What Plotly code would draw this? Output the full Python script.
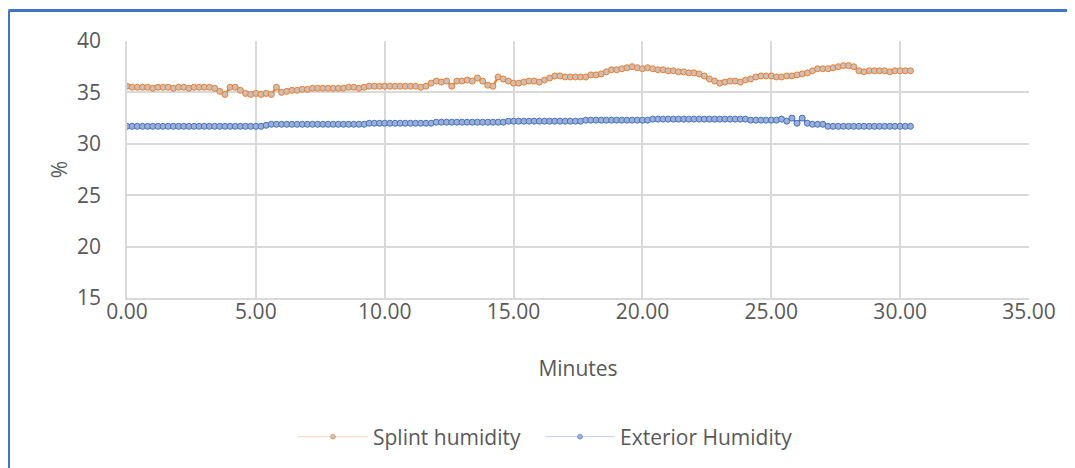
import plotly.graph_objects as go

minutes = [
    0.0, 0.2, 0.4, 0.6, 0.8, 1.0, 1.2, 1.4, 1.6, 1.8,
    2.0, 2.2, 2.4, 2.6, 2.8, 3.0, 3.2, 3.4, 3.6, 3.8,
    4.0, 4.2, 4.4, 4.6, 4.8, 5.0, 5.2, 5.4, 5.6, 5.8,
    6.0, 6.2, 6.4, 6.6, 6.8, 7.0, 7.2, 7.4, 7.6, 7.8,
    8.0, 8.2, 8.4, 8.6, 8.8, 9.0, 9.2, 9.4, 9.6, 9.8,
    10.0, 10.2, 10.4, 10.6, 10.8, 11.0, 11.2, 11.4, 11.6, 11.8,
    12.0, 12.2, 12.4, 12.6, 12.8, 13.0, 13.2, 13.4, 13.6, 13.8,
    14.0, 14.2, 14.4, 14.6, 14.8, 15.0, 15.2, 15.4, 15.6, 15.8,
    16.0, 16.2, 16.4, 16.6, 16.8, 17.0, 17.2, 17.4, 17.6, 17.8,
    18.0, 18.2, 18.4, 18.6, 18.8, 19.0, 19.2, 19.4, 19.6, 19.8,
    20.0, 20.2, 20.4, 20.6, 20.8, 21.0, 21.2, 21.4, 21.6, 21.8,
    22.0, 22.2, 22.4, 22.6, 22.8, 23.0, 23.2, 23.4, 23.6, 23.8,
    24.0, 24.2, 24.4, 24.6, 24.8, 25.0, 25.2, 25.4, 25.6, 25.8,
    26.0, 26.2, 26.4, 26.6, 26.8, 27.0, 27.2, 27.4, 27.6, 27.8,
    28.0, 28.2, 28.4, 28.6, 28.8, 29.0, 29.2, 29.4, 29.6, 29.8,
    30.0, 30.2, 30.4,
]

splint_humidity = [
    35.6, 35.5, 35.5, 35.5, 35.5, 35.4, 35.5, 35.5, 35.5, 35.4,
    35.5, 35.5, 35.4, 35.5, 35.5, 35.5, 35.5, 35.4, 35.1, 34.8,
    35.5, 35.5, 35.2, 34.9, 34.8, 34.9, 34.8, 34.9, 34.8, 35.5,
    35.0, 35.1, 35.2, 35.2, 35.3, 35.3, 35.4, 35.4, 35.4, 35.4,
    35.4, 35.4, 35.4, 35.5, 35.5, 35.4, 35.5, 35.6, 35.6, 35.6,
    35.6, 35.6, 35.6, 35.6, 35.6, 35.6, 35.6, 35.5, 35.6, 35.9,
    36.1, 36.0, 36.1, 35.6, 36.1, 36.1, 36.2, 36.1, 36.4, 36.1,
    35.7, 35.6, 36.5, 36.3, 36.1, 35.9, 35.9, 36.0, 36.1, 36.1,
    36.0, 36.2, 36.4, 36.6, 36.6, 36.5, 36.5, 36.5, 36.5, 36.5,
    36.7, 36.7, 36.8, 37.0, 37.2, 37.2, 37.3, 37.4, 37.5, 37.4,
    37.3, 37.4, 37.3, 37.2, 37.2, 37.1, 37.1, 37.0, 37.0, 36.9,
    36.9, 36.8, 36.6, 36.3, 36.1, 35.9, 36.0, 36.1, 36.1, 36.0,
    36.2, 36.3, 36.5, 36.6, 36.6, 36.6, 36.5, 36.5, 36.6, 36.6,
    36.7, 36.8, 36.9, 37.1, 37.3, 37.3, 37.3, 37.4, 37.5, 37.6,
    37.6, 37.5, 37.1, 37.0, 37.1, 37.1, 37.1, 37.1, 37.0, 37.1,
    37.1, 37.1, 37.1,
]

exterior_humidity = [
    31.7, 31.7, 31.7, 31.7, 31.7, 31.7, 31.7, 31.7, 31.7, 31.7,
    31.7, 31.7, 31.7, 31.7, 31.7, 31.7, 31.7, 31.7, 31.7, 31.7,
    31.7, 31.7, 31.7, 31.7, 31.7, 31.7, 31.7, 31.8, 31.9, 31.9,
    31.9, 31.9, 31.9, 31.9, 31.9, 31.9, 31.9, 31.9, 31.9, 31.9,
    31.9, 31.9, 31.9, 31.9, 31.9, 31.9, 31.9, 32.0, 32.0, 32.0,
    32.0, 32.0, 32.0, 32.0, 32.0, 32.0, 32.0, 32.0, 32.0, 32.0,
    32.1, 32.1, 32.1, 32.1, 32.1, 32.1, 32.1, 32.1, 32.1, 32.1,
    32.1, 32.1, 32.1, 32.1, 32.2, 32.2, 32.2, 32.2, 32.2, 32.2,
    32.2, 32.2, 32.2, 32.2, 32.2, 32.2, 32.2, 32.2, 32.2, 32.3,
    32.3, 32.3, 32.3, 32.3, 32.3, 32.3, 32.3, 32.3, 32.3, 32.3,
    32.3, 32.3, 32.4, 32.4, 32.4, 32.4, 32.4, 32.4, 32.4, 32.4,
    32.4, 32.4, 32.4, 32.4, 32.4, 32.4, 32.4, 32.4, 32.4, 32.4,
    32.4, 32.3, 32.3, 32.3, 32.3, 32.3, 32.3, 32.4, 32.2, 32.5,
    32.0, 32.5, 32.0, 31.9, 31.9, 31.9, 31.7, 31.7, 31.7, 31.7,
    31.7, 31.7, 31.7, 31.7, 31.7, 31.7, 31.7, 31.7, 31.7, 31.7,
    31.7, 31.7, 31.7,
]

series_names = ["Splint humidity", "Exterior Humidity"]
x_ticks = [0, 5, 10, 15, 20, 25, 30, 35]
y_ticks = [15, 20, 25, 30, 35, 40]

FONT = "Open Sans"
TXT = "#595959"
GRID = "#D9D9D9"
FS = 21

styles = [
    dict(line="#ED7D31", fill="#CDBFB4", legline="rgba(237,125,49,0.35)", legend="legend"),
    dict(line="#4472C4", fill="#9DAFD4", legline="rgba(68,114,196,0.35)", legend="legend2"),
]

fig = go.Figure()
for name, vals, st in zip(series_names, [splint_humidity, exterior_humidity], styles):
    fig.add_trace(go.Scatter(
        x=minutes, y=vals, name=name, mode="lines+markers", showlegend=False,
        line=dict(color=st["line"], width=2.25),
        marker=dict(size=6, color=st["fill"], line=dict(color=st["line"], width=1)),
    ))
for name, st in zip(series_names, styles):
    # legend-only entry with thin line and small marker, as in the original
    fig.add_trace(go.Scatter(
        x=[None], y=[None], name=name, mode="lines+markers", legend=st["legend"],
        line=dict(color=st["legline"], width=1),
        marker=dict(size=5, color=st["fill"], line=dict(color=st["line"], width=0.5)),
    ))

# page body has an 8px margin, so figure coords = screen coords - 8
OFF = 8
W, H = 1075, 468
L = 127 - OFF
T = 41 - OFF
R = W - (1029 - OFF)
B = H - (298 - OFF)
pw, ph = W - L - R, H - T - B

def px_x(p):
    return (p - OFF - L) / pw

def px_y(p):
    return (H - B - (p - OFF)) / ph

frame = dict(color="#4472C4", width=3)
fig.add_shape(type="line", xref="paper", yref="paper",
              x0=px_x(8.5), x1=px_x(8.5), y0=px_y(H + 20), y1=px_y(10.5), line=frame)
fig.add_shape(type="line", xref="paper", yref="paper",
              x0=px_x(8.5), x1=px_x(W + 20), y0=px_y(10.5), y1=px_y(10.5), line=frame)

leg_common = dict(orientation="h", xanchor="left", y=px_y(437), yanchor="middle",
                  font=dict(family=FONT, size=FS, color=TXT), itemwidth=70,
                  bgcolor="rgba(0,0,0,0)")

fig.update_layout(
    width=W, height=H,
    margin=dict(l=L, r=R, t=T, b=B),
    paper_bgcolor="white", plot_bgcolor="white",
    font=dict(family=FONT, size=FS, color=TXT),
    showlegend=True,
    legend=dict(x=px_x(293), **leg_common),
    legend2=dict(x=px_x(540), **leg_common),
    xaxis=dict(range=[0, 35], tickvals=x_ticks, tickformat=".2f",
               showgrid=True, gridcolor=GRID, gridwidth=1.5,
               showline=True, linecolor=GRID, linewidth=1.5,
               ticks="", ticklabelstandoff=-6,
               zeroline=False,
               title=dict(text="Minutes", font=dict(family=FONT, size=FS, color=TXT), standoff=37),
               tickfont=dict(family=FONT, size=FS, color=TXT)),
    yaxis=dict(range=[15, 40], tickvals=y_ticks,
               showgrid=True, gridcolor=GRID, gridwidth=1.5,
               showline=True, linecolor=GRID, linewidth=1.5,
               ticks="outside", ticklen=20, tickcolor="rgba(0,0,0,0)",
               zeroline=False,
               title=dict(text="%", font=dict(family=FONT, size=FS, color=TXT), standoff=4),
               tickfont=dict(family=FONT, size=FS, color=TXT)),
)

fig.write_html("out.html")
